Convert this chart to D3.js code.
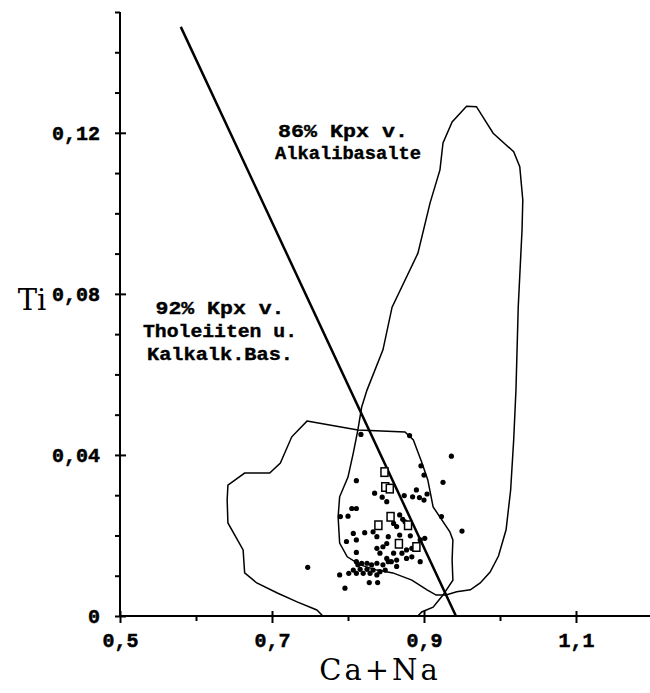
<!DOCTYPE html>
<html>
<head>
<meta charset="utf-8">
<script src="https://cdn.jsdelivr.net/npm/d3@7.9.0/dist/d3.min.js"></script>
<style>
  html, body { margin: 0; padding: 0; background: #fff; }
  svg { display: block; }
  .tick text { font-family: "Liberation Mono", monospace; font-weight: bold; font-size: 20px; fill: #000; stroke: #000; stroke-width: 0.5; }
  .lbl { font-family: "Liberation Mono", monospace; font-weight: bold; font-size: 19px; fill: #000; stroke: #000; stroke-width: 0.4; }
  .title { font-family: "DejaVu Serif", serif; font-size: 29px; fill: #000; }
</style>
</head>
<body>
<svg id="chart" width="650" height="693"></svg>
<script>
// axis ticks
const xMajor = [0.5, 0.7, 0.9, 1.1];
const xMinor = [0.6, 0.8, 1.0];
const yMajor = [0, 0.04, 0.08, 0.12];
const yMinor = [0.01, 0.02, 0.03, 0.05, 0.06, 0.07, 0.09, 0.10, 0.11, 0.13, 0.14, 0.15];

// field of 86% Kpx from alkali basalts
const alkaliX = [0.956, 0.969, 0.991, 1.018, 1.026, 1.030, 1.029, 1.024, 1.021, 1.018, 1.014, 1.008, 0.998, 0.987, 0.974, 0.961, 0.943, 0.929, 0.916, 0.904, 0.884, 0.859, 0.838, 0.816, 0.799, 0.789, 0.787, 0.789, 0.800, 0.807, 0.813, 0.818, 0.825, 0.846, 0.858, 0.892, 0.908, 0.921, 0.925, 0.937];
const alkaliY = [0.1266, 0.1265, 0.1199, 0.1153, 0.1116, 0.1033, 0.0959, 0.0768, 0.0561, 0.0437, 0.0313, 0.0214, 0.0149, 0.0109, 0.0082, 0.0065, 0.0060, 0.0052, 0.0052, 0.0065, 0.0089, 0.0107, 0.0114, 0.0127, 0.0147, 0.0181, 0.0246, 0.0296, 0.0345, 0.0405, 0.0462, 0.0519, 0.0561, 0.0661, 0.0767, 0.0901, 0.1026, 0.1108, 0.1175, 0.1227];

// field of 92% Kpx from tholeiites and calc-alkaline basalts
const tholX = [0.746, 0.813, 0.875, 0.886, 0.897, 0.905, 0.912, 0.934, 0.938, 0.937, 0.938, 0.925, 0.912, 0.897, 0.892, 0.767, 0.759, 0.733, 0.707, 0.680, 0.664, 0.662, 0.642, 0.641, 0.642, 0.664, 0.697, 0.711, 0.726];
const tholY = [0.0484, 0.0462, 0.0457, 0.0437, 0.0382, 0.0338, 0.0271, 0.0209, 0.0189, 0.0139, 0.0089, 0.0052, 0.0022, 0.0010, 0, 0, 0.0015, 0.0035, 0.0057, 0.0082, 0.0107, 0.0164, 0.0231, 0.0288, 0.0325, 0.0355, 0.0355, 0.0380, 0.0445];

// discrimination line
const lineX = [0.580, 0.942];
const lineY = [0.1463, 0];

// samples (filled dots)
const dotX = [0.817, 0.881, 0.936, 0.896, 0.900, 0.925, 0.811, 0.835, 0.890, 0.874, 0.885, 0.894, 0.900, 0.904, 0.845, 0.851, 0.805, 0.811, 0.800, 0.790, 0.923, 0.950,
  0.807, 0.822, 0.833, 0.838, 0.798, 0.811, 0.868, 0.882, 0.895, 0.901, 0.851, 0.838, 0.860, 0.871, 0.877, 0.884, 0.811, 0.842, 0.851, 0.857, 0.864, 0.877, 0.884, 0.895,
  0.811, 0.813, 0.818, 0.825, 0.831, 0.838, 0.846, 0.853, 0.747, 0.807, 0.816, 0.825, 0.833, 0.842, 0.849, 0.801, 0.811, 0.820, 0.829, 0.838, 0.789, 0.796, 0.828, 0.839,
  0.868, 0.872, 0.875, 0.864, 0.860, 0.853, 0.846, 0.864];
const dotY = [0.0451, 0.0448, 0.0397, 0.0373, 0.0350, 0.0332, 0.0336, 0.0305, 0.0313, 0.0299, 0.0296, 0.0294, 0.0288, 0.0303, 0.0295, 0.0284, 0.0267, 0.0267, 0.0248, 0.0247, 0.0247, 0.0211,
  0.0205, 0.0207, 0.0209, 0.0197, 0.0185, 0.0189, 0.0201, 0.0199, 0.0189, 0.0193, 0.0180, 0.0168, 0.0156, 0.0156, 0.0164, 0.0168, 0.0158, 0.0156, 0.0143, 0.0135, 0.0139, 0.0143, 0.0147, 0.0135,
  0.0135, 0.0127, 0.0131, 0.0131, 0.0127, 0.0131, 0.0127, 0.0135, 0.0121, 0.0114, 0.0116, 0.0116, 0.0114, 0.0110, 0.0114, 0.0106, 0.0106, 0.0106, 0.0106, 0.0102, 0.0102, 0.0069, 0.0083, 0.0083,
  0.0251, 0.0240, 0.0234, 0.0222, 0.0230, 0.0197, 0.0172, 0.0123];

// samples (open squares)
const sqX = [0.848, 0.849, 0.855, 0.856, 0.840, 0.879, 0.867, 0.890];
const sqY = [0.0358, 0.0321, 0.0317, 0.0247, 0.0226, 0.0226, 0.0180, 0.0172];

const svg = d3.select('#chart');
const x = d3.scaleLinear().domain([0.5, 1.2]).range([120, 652]);
const y = d3.scaleLinear().domain([0, 0.15]).range([616, 12]);
const comma = (d, n) => d === 0 ? '0' : d.toFixed(n).replace('.', ',');

// x axis
const gx = svg.append('g').attr('transform', `translate(0,${y(0)})`);
gx.call(d3.axisBottom(x).tickValues(xMinor).tickSize(5).tickFormat(''));
gx.call(g => g.select('.domain').remove());
const gx2 = svg.append('g').attr('transform', `translate(0,${y(0)})`)
  .call(d3.axisBottom(x).tickValues(xMajor).tickSize(7).tickPadding(10).tickFormat(d => comma(d, 1)));
gx2.selectAll('.tick line').attr('y1', -5);
gx2.select('.domain').attr('d', `M${x(0.5)},0H650`);

// y axis
const gy = svg.append('g').attr('transform', `translate(${x(0.5)},0)`);
gy.call(d3.axisLeft(y).tickValues(yMinor).tickSize(5).tickFormat(''));
gy.call(g => g.select('.domain').remove());
const gy2 = svg.append('g').attr('transform', `translate(${x(0.5)},0)`)
  .call(d3.axisLeft(y).tickValues(yMajor).tickSize(5).tickPadding(15).tickFormat(d => comma(d, 2)));
gy2.selectAll('.tick line').attr('x1', 6);
gy2.select('.domain').attr('d', `M0,${y(0)}V${y(0.15)}`);

svg.selectAll('.domain, .tick line').attr('stroke', '#000').attr('stroke-width', 2);

// fields
const fields = [d3.zip(alkaliX, alkaliY), d3.zip(tholX, tholY)];
const poly = d3.line().x(d => x(d[0])).y(d => y(d[1])).curve(d3.curveLinearClosed);
svg.selectAll('path.field').data(fields).join('path')
  .attr('class', 'field')
  .attr('d', poly)
  .attr('fill', 'none').attr('stroke', '#000').attr('stroke-width', 1.5);

// line
svg.append('line')
  .attr('x1', x(lineX[0])).attr('y1', y(lineY[0]))
  .attr('x2', x(lineX[1])).attr('y2', y(lineY[1]))
  .attr('stroke', '#000').attr('stroke-width', 2.5);

// points
svg.selectAll('circle.dot').data(d3.zip(dotX, dotY)).join('circle')
  .attr('class', 'dot')
  .attr('cx', d => x(d[0])).attr('cy', d => y(d[1])).attr('r', 2.6)
  .attr('fill', '#000');

svg.selectAll('rect.sq').data(d3.zip(sqX, sqY)).join('rect')
  .attr('class', 'sq')
  .attr('x', d => x(d[0]) - 3.5).attr('y', d => y(d[1]) - 4)
  .attr('width', 7).attr('height', 8.5)
  .attr('fill', '#fff').attr('stroke', '#000').attr('stroke-width', 1.5);

// labels
const labels = [
  { t: '86% Kpx v.', x: 343, y: 137, w: 130 },
  { t: 'Alkalibasalte', x: 348, y: 159, w: 146 },
  { t: '92% Kpx v.', x: 220, y: 314, w: 129 },
  { t: 'Tholeiiten u.', x: 220, y: 337, w: 154 },
  { t: 'Kalkalk.Bas.', x: 220, y: 360, w: 146 }
];
svg.selectAll('text.lbl').data(labels).join('text')
  .attr('class', 'lbl')
  .attr('x', d => d.x - d.w / 2).attr('y', d => d.y)
  .attr('textLength', d => d.w).attr('lengthAdjust', 'spacingAndGlyphs')
  .text(d => d.t);

svg.append('text').attr('class', 'title')
  .attr('x', 380).attr('y', 680).attr('text-anchor', 'middle')
  .attr('letter-spacing', 3).text('Ca+Na');
svg.append('text').attr('class', 'title')
  .attr('x', 32).attr('y', 310).attr('text-anchor', 'middle').text('Ti');
</script>
</body>
</html>
